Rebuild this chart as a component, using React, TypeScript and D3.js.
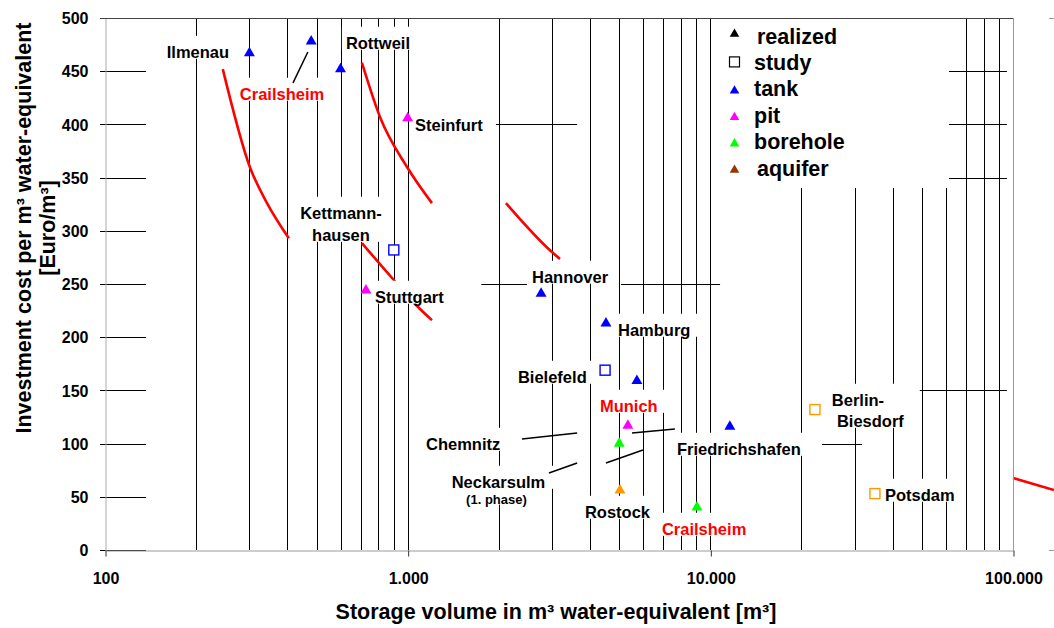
import React, { useRef, useEffect } from "react";
import * as d3 from "d3";

const FONT = "'Liberation Sans', Arial, Helvetica, sans-serif";

// realized storages (triangles), storage volume in m³ water-equivalent, cost in Euro/m³
const tankSites = ["Ilmenau", "Crailsheim", "Rottweil", "Hannover", "Hamburg", "(n.n.)", "Friedrichshafen"];
const tankVolume = [300, 480, 600, 2760, 4520, 5720, 11600];
const tankCost = [467, 478, 452, 241, 213, 159, 116];

const pitSites = ["Steinfurt", "Stuttgart", "Munich"];
const pitVolume = [1000, 728, 5340];
const pitCost = [406, 244, 117];

const boreholeSites = ["Neckarsulm", "Crailsheim"];
const boreholeVolume = [5000, 9030];
const boreholeCost = [100, 40];

const aquiferSites = ["Rostock"];
const aquiferVolume = [5030];
const aquiferCost = [56];

// studies (open squares)
const studySites = ["Kettmannhausen", "Bielefeld", "Berlin-Biesdorf", "Potsdam"];
const studyVolume = [900, 4490, 22160, 34980];
const studyCost = [282, 169, 132, 53];
const studyType = ["tank", "tank", "aquifer", "aquifer"];

// red cost curve pieces, [volume, cost]
const curvePieces = [
  [[245, 452], [301, 360], [343, 326], [405, 293]],
  [[706, 458], [810, 407], [995, 360], [1203, 326]],
  [[706, 288.5], [894, 254.7], [1082, 228.4], [1203, 216]],
  [[2112, 326], [2997, 280], [3186, 273.5]],
  [[100000, 67.7], [136500, 56.4]],
];

// site labels
const labelText = ["Ilmenau", "Rottweil", "Crailsheim", "Steinfurt", "Kettmann-", "hausen", "Stuttgart", "Hannover",
  "Hamburg", "Bielefeld", "Munich", "Chemnitz", "Neckarsulm", "(1. phase)", "Rostock", "Crailsheim",
  "Friedrichshafen", "Berlin-", "Biesdorf", "Potsdam"];
const labelVolume = [160, 625, 279, 1057, 602, 602, 780, 2575, 4953, 2314, 4318, 1150, 1995, 1965, 3853, 6920,
  7760, 25200, 26200, 37750];
const labelCost = [468, 476.5, 428.6, 399.4, 316.7, 296, 237.8, 256.6, 206.8, 162.6, 135.3, 99.6, 63.9, 47.9,
  35.7, 19.7, 94.9, 141, 121.2, 51.7];
const centeredLabels = ["Kettmann-", "hausen", "Neckarsulm", "(1. phase)"];
const redLabels = ["Crailsheim", "Munich"];

// leader lines from labels to points
const leaderLines = [
  [[418, 439], [468, 468]],
  [[2386, 104.3], [3630, 110]],
  [[2930, 72.4], [3630, 81.8]],
  [[4520, 81.8], [5990, 94]],
  [[5510, 110], [7640, 113.7]],
];

// the few horizontal grid pieces that show: [cost, from volume, to volume]
const gridPieces = [
  [450, 61400, 95500],
  [400, 1957, 3630],
  [400, 61400, 95500],
  [350, 61400, 95500],
  [250, 1750, 2480],
  [250, 5070, 10770],
  [150, 49200, 95500],
  [100, 23400, 31700],
];

const xTickValues = [100, 1000, 10000, 100000];
const yTickValues = d3.range(0, 501, 50);

const legendNames = ["realized", "study", "tank", "pit", "borehole", "aquifer"];

const typeColor = { tank: "#0000ff", pit: "#ff00ff", borehole: "#00ff00", aquifer: "#ff9900" };
const legendColor = ["#000", "#000", "#0000ff", "#ff00ff", "#00ff00", "#993300"];

const W = 1054;
const H = 628;

const App = () => {
  const svgRef = useRef(null);

  useEffect(() => {
    const svg = d3.select(svgRef.current);
    svg.selectAll("*").remove();

    const x = d3.scaleLog().domain([100, 100000]).range([105, 1013]);
    const y = d3.scaleLinear().domain([0, 500]).range([550, 18]);
    const px = (v) => Math.round(x(v)) + 0.5;
    const py = (v) => Math.round(y(v)) + 0.5;

    const grid = svg.append("g");
    // vertical grid at 200..900, 2.000..9.000 etc
    const vLines = x.ticks().filter((d) => d > 100 && d < 100000);
    grid.selectAll(".vgrid").data(vLines).join("line")
      .attr("class", "vgrid")
      .attr("x1", px).attr("x2", px)
      .attr("y1", y(500)).attr("y2", y(0))
      .attr("stroke", "#000").attr("stroke-width", 1);

    // short stubs at the left for every level
    grid.selectAll(".stub").data(yTickValues.filter((d) => d < 500)).join("line")
      .attr("class", "stub")
      .attr("x1", 100).attr("x2", 146)
      .attr("y1", py).attr("y2", py)
      .attr("stroke", "#000");

    grid.selectAll(".hpiece").data(gridPieces).join("line")
      .attr("class", "hpiece")
      .attr("x1", (d) => x(d[1])).attr("x2", (d) => x(d[2]))
      .attr("y1", (d) => py(d[0])).attr("y2", (d) => py(d[0]))
      .attr("stroke", "#000");

    // red curves
    const curveLine = d3.line()
      .x((d) => x(d[0]))
      .y((d) => y(d[1]))
      .curve(d3.curveMonotoneX);
    svg.append("g").selectAll("path").data(curvePieces).join("path")
      .attr("d", curveLine)
      .attr("fill", "none")
      .attr("stroke", "#ff0000")
      .attr("stroke-width", 2.6);

    const boxLayer = svg.append("g");

    // legend box
    svg.append("rect")
      .attr("x", 711).attr("y", 19).attr("width", 238).attr("height", 169)
      .attr("fill", "#fff");

    // leader lines
    svg.append("g").selectAll("line").data(leaderLines).join("line")
      .attr("x1", (d) => x(d[0][0])).attr("y1", (d) => y(d[0][1]))
      .attr("x2", (d) => x(d[1][0])).attr("y2", (d) => y(d[1][1]))
      .attr("stroke", "#000").attr("stroke-width", 1.5);

    // markers
    const tri = d3.symbol().type(d3.symbolTriangle).size(52);
    const triData = [
      ...tankVolume.map((v, i) => ({ v, c: tankCost[i], t: "tank", n: tankSites[i] })),
      ...pitVolume.map((v, i) => ({ v, c: pitCost[i], t: "pit", n: pitSites[i] })),
      ...boreholeVolume.map((v, i) => ({ v, c: boreholeCost[i], t: "borehole", n: boreholeSites[i] })),
      ...aquiferVolume.map((v, i) => ({ v, c: aquiferCost[i], t: "aquifer", n: aquiferSites[i] })),
    ];
    svg.append("g").selectAll("path").data(triData).join("path")
      .attr("d", tri)
      .attr("transform", (d) => `translate(${x(d.v)},${y(d.c)})`)
      .attr("fill", (d) => typeColor[d.t]);

    const sq = 10;
    svg.append("g").selectAll("rect").data(studyVolume).join("rect")
      .attr("x", (d) => x(d) - sq / 2)
      .attr("y", (d, i) => y(studyCost[i]) - sq / 2)
      .attr("width", sq).attr("height", sq)
      .attr("fill", "#fff")
      .attr("stroke", (d, i) => typeColor[studyType[i]])
      .attr("stroke-width", 1.4);

    // labels
    const labels = svg.append("g")
      .attr("font-family", FONT).attr("font-weight", "bold");
    labels.selectAll("text").data(labelText).join("text")
      .attr("x", (d, i) => x(labelVolume[i]))
      .attr("y", (d, i) => y(labelCost[i]))
      .attr("dy", "0.35em")
      .attr("text-anchor", (d) => (centeredLabels.includes(d) ? "middle" : "start"))
      .attr("font-size", (d) => (d === "(1. phase)" ? 13 : 16.5))
      .attr("fill", (d) => (redLabels.includes(d) ? "#ff0000" : "#000"))
      .text((d) => d);

    // white text boxes behind labels, they hide the grid
    labels.selectAll("text").each(function () {
      const b = this.getBBox();
      boxLayer.append("rect")
        .attr("x", b.x - 4).attr("y", b.y - 7)
        .attr("width", b.width + 14).attr("height", b.height + 5)
        .attr("fill", "#fff");
    });

    // legend
    const legend = svg.append("g").attr("font-family", FONT).attr("font-weight", "bold");
    const rowY = d3.scaleLinear().domain([0, 5]).range([36, 168]);
    legendNames.forEach((name, i) => {
      const cy = rowY(i);
      if (name === "study") {
        legend.append("rect")
          .attr("x", 729.5).attr("y", cy - 5.5).attr("width", 10).attr("height", 10)
          .attr("fill", "#fff").attr("stroke", "#000").attr("stroke-width", 1.2);
      } else {
        legend.append("path")
          .attr("d", d3.symbol().type(d3.symbolTriangle).size(40)())
          .attr("transform", `translate(734.5,${cy + (i === 0 ? -2 : 2)})`)
          .attr("fill", legendColor[i]);
      }
      legend.append("text")
        .attr("x", name === "realized" || name === "aquifer" ? 757 : 754)
        .attr("y", cy).attr("dy", "0.35em")
        .attr("font-size", 21.5)
        .text(name);
    });

    // frame
    svg.append("line").attr("x1", 100).attr("x2", 1013).attr("y1", 18.5).attr("y2", 18.5)
      .attr("stroke", "#444");
    svg.append("line").attr("x1", 1013.5).attr("x2", 1013.5).attr("y1", 18).attr("y2", 550)
      .attr("stroke", "#999");
    svg.append("line").attr("x1", 1049).attr("x2", W).attr("y1", 18.5).attr("y2", 18.5).attr("stroke", "#999");
    svg.append("line").attr("x1", 1049).attr("x2", W).attr("y1", 550.5).attr("y2", 550.5).attr("stroke", "#999");

    // axes
    const fmt = d3.formatLocale({ decimal: ",", thousands: ".", grouping: [3], currency: ["", ""] }).format(",");
    const gx = svg.append("g")
      .attr("transform", `translate(0.5,${Math.round(y(0)) + 0.5})`)
      .call(d3.axisBottom(x).tickValues(xTickValues).tickFormat(fmt).tickSize(6).tickSizeOuter(0).tickPadding(16));
    gx.select(".domain").attr("stroke", "#999");
    gx.selectAll(".tick line").attr("stroke", "#333");
    gx.attr("font-family", FONT).attr("font-size", 16).attr("font-weight", "bold");
    gx.selectAll("text").attr("fill", "#000");

    const gy = svg.append("g")
      .attr("transform", `translate(${Math.round(x(100)) + 0.5},0.5)`)
      .call(d3.axisLeft(y).tickValues(yTickValues).tickSize(0).tickSizeOuter(0).tickPadding(17));
    gy.select(".domain").attr("stroke", "#aaa");
    gy.attr("font-family", FONT).attr("font-size", 16).attr("font-weight", "bold");
    gy.selectAll("text").attr("fill", "#000");

    // titles
    svg.append("text")
      .attr("x", 556).attr("y", 619)
      .attr("text-anchor", "middle")
      .attr("font-family", FONT).attr("font-size", 21.5).attr("font-weight", "bold")
      .text("Storage volume in m³ water-equivalent [m³]");
    const yt = svg.append("text")
      .attr("transform", "translate(31,228) rotate(-90)")
      .attr("text-anchor", "middle")
      .attr("font-family", FONT).attr("font-size", 21.5).attr("font-weight", "bold");
    yt.append("tspan").attr("x", 0).attr("y", 0).text("Investment cost per m³ water-equivalent");
    yt.append("tspan").attr("x", 0).attr("y", 24).text("[Euro/m³]");
  }, []);

  return (
    <div style={{ position: "absolute", left: 0, top: 0 }}>
      <svg ref={svgRef} width={W} height={H} style={{ display: "block", background: "#fff" }} />
    </div>
  );
};

export default App;
